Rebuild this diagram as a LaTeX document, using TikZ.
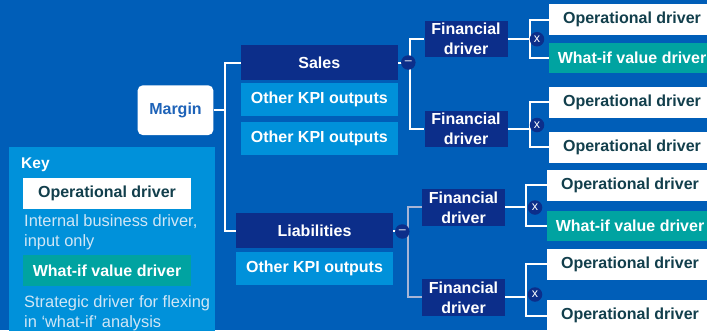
\documentclass[tikz,border=0pt]{standalone}
\usepackage{fontspec}
\setmainfont{Liberation Sans}
\usetikzlibrary{positioning}
\definecolor{bgblue}{HTML}{005EB8}
\definecolor{navy}{HTML}{0C2E8A}
\definecolor{lightblue}{HTML}{0091DA}
\definecolor{wifteal}{HTML}{00A3A1}
\definecolor{darktext}{HTML}{123F4C}
\definecolor{marginblue}{HTML}{1E63B8}
\definecolor{greyline}{HTML}{A7B5D6}
\definecolor{keytext}{HTML}{D0E6F6}

\begin{document}
\begin{tikzpicture}[x=1pt,y=-1pt,
    box/.style={rectangle, inner sep=0pt, font=\bfseries\fontsize{16}{19}\selectfont},
    navybox/.style={box, fill=navy, text=white},
    kpibox/.style={box, fill=lightblue, text=white, minimum width=157pt, minimum height=33pt},
    findrv/.style={navybox, minimum width=83pt, minimum height=36.5pt, align=center,
        font=\bfseries\fontsize{16}{20}\selectfont},
    opdrv/.style={box, fill=white, text=darktext, minimum width=166pt, minimum height=30.5pt},
    wifdrv/.style={opdrv, fill=wifteal, text=white},
    keybox/.style={box, minimum width=168pt, minimum height=30.4pt},
    wire/.style={draw=white, line width=2pt},
    greywire/.style={wire, draw=greyline},
    opcirc/.style={circle, fill=navy, text=white, minimum size=14.5pt, inner sep=0pt,
        font=\fontsize{12.5}{12.5}\selectfont},
    keynote/.style={anchor=west, align=left, text=keytext, inner sep=0pt,
        font=\fontsize{16.4}{19.3}\selectfont}]
    %%%%% START %%%%%

    \useasboundingbox (0,0) rectangle (707,330);
    \clip (0,0) rectangle (707,330);
    \fill[bgblue] (0,0) rectangle (707,330);

    % key panel
    \fill[lightblue] (9,147) rectangle (215,340);
    \node[anchor=west, inner sep=0pt, text=white, font=\bfseries\fontsize{15.5}{18}\selectfont] (keyhead) at (21,165) {Key};
    \node[keybox, fill=white, text=darktext] (keyop) at (107,193.5) {Operational driver};
    \node[keynote] (keyopnote) at (24,232.4) {Internal business driver,\\input only};
    \node[keybox, fill=wifteal, text=white] (keywif) at (107,270.3) {What-if value driver};
    \node[keynote] (keywifnote) at (24,313.2) {Strategic driver for flexing\\in ‘what-if’ analysis};

    % tree boxes
    \node[box, fill=white, text=marginblue, rounded corners=5pt, minimum width=75.6pt, minimum height=49.7pt] (margin) at (175.5,110.2) {Margin};

    \node[navybox, minimum width=157pt, minimum height=35pt] (sales) at (319.3,62.5) {Sales};
    \node[kpibox] (kpia) at (319.3,99.2) {Other KPI outputs};
    \node[kpibox] (kpib) at (319.3,138.8) {Other KPI outputs};

    \node[navybox, minimum width=157pt, minimum height=34.4pt] (liab) at (314.5,230.5) {Liabilities};
    \node[kpibox] (kpic) at (314.5,268.2) {Other KPI outputs};

    \node[findrv] (fda) at (466,39.2) {Financial\\driver};
    \node[findrv] (fdb) at (466,129.2) {Financial\\driver};
    \node[findrv] (fdc) at (463.5,207.3) {Financial\\driver};
    \node[findrv] (fdd) at (463.5,297.3) {Financial\\driver};

    \node[opdrv] (opa) at (632,19.5) {Operational driver};
    \node[wifdrv] (wifa) at (632,58) {What-if value driver};
    \node[opdrv] (opb) at (632,102.3) {Operational driver};
    \node[opdrv] (opc) at (632,147.3) {Operational driver};
    \node[opdrv] (opd) at (630,185.3) {Operational driver};
    \node[wifdrv] (wifb) at (630,226.2) {What-if value driver};
    \node[opdrv] (ope) at (630,264.3) {Operational driver};
    \node[opdrv] (opf) at (630,315.5) {Operational driver};

    % joints
    \coordinate (mjoin) at (225,110.2);
    \coordinate (sjoin) at (410,62.5);
    \coordinate (ljoin) at (407.7,230.5);
    \coordinate (xjoina) at (530,39.2);
    \coordinate (xjoinb) at (530,129.2);
    \coordinate (xjoinc) at (525.7,207.3);
    \coordinate (xjoind) at (525.7,297.3);

    % connectors
    \draw[wire] (margin.east) -- (mjoin);
    \draw[wire] (sales.west) -| (mjoin) |- (liab.west);
    \draw[wire] (sales.east) -- (sjoin);
    \draw[wire] (fda.west) -| (sjoin) |- (fdb.west);
    \draw[wire] (liab.east) -- (ljoin);
    \draw[greywire] (fdc.west) -| (ljoin) |- (fdd.west);
    \draw[wire] (fda.east) -- (xjoina);
    \draw[wire] (opa.west) -| (xjoina) |- (wifa.west);
    \draw[wire] (fdb.east) -- (xjoinb);
    \draw[wire] (opb.west) -| (xjoinb) |- (opc.west);
    \draw[wire] (fdc.east) -- (xjoinc);
    \draw[wire] (opd.west) -| (xjoinc) |- (wifb.west);
    \draw[wire] (fdd.east) -- (xjoind);
    \draw[wire] (ope.west) -| (xjoind) |- (opf.west);

    % operators
    \node[opcirc] (mina) at (408.3,62.5) {--};
    \node[opcirc] (minb) at (402.3,231.5) {--};
    \node[opcirc] (xa) at (537,39.2) {x};
    \node[opcirc] (xb) at (537,125) {x};
    \node[opcirc] (xc) at (535,207.5) {x};
    \node[opcirc] (xd) at (535,294.5) {x};

    %%%%% END %%%%%
\end{tikzpicture}
\end{document}
